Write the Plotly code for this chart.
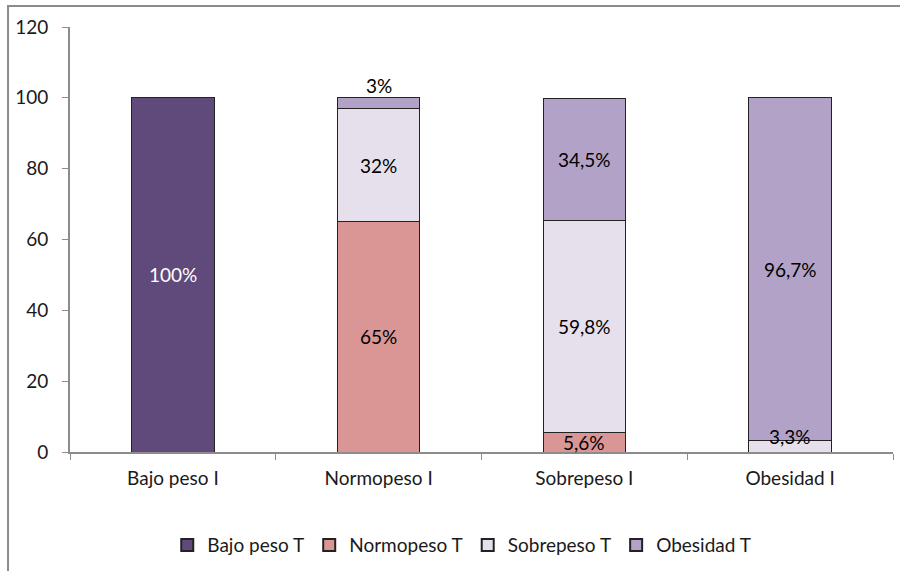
import plotly.graph_objects as go

categories = ["Bajo peso I", "Normopeso I", "Sobrepeso I", "Obesidad I"]
series_names = ["Bajo peso T", "Normopeso T", "Sobrepeso T", "Obesidad T"]
bajo_peso_t = [100, 0, 0, 0]
normopeso_t = [0, 65, 5.6, 0]
sobrepeso_t = [0, 32, 59.8, 3.3]
obesidad_t = [0, 3, 34.5, 96.7]
colors = ["#604A7B", "#D99694", "#E6E0EC", "#B3A2C7"]
y_ticks = [0, 20, 40, 60, 80, 100, 120]

# (category index, series index, label text, text colour, vertical offset in value units)
labels = [
    (0, 0, "100%", "white", 0),
    (1, 1, "65%", "black", 0),
    (1, 2, "32%", "black", 0),
    (1, 3, "3%", "black", 5),
    (2, 1, "5,6%", "black", 0),
    (2, 2, "59,8%", "black", 0),
    (2, 3, "34,5%", "black", 0),
    (3, 2, "3,3%", "black", 2.6),
    (3, 3, "96,7%", "black", 0),
]

font_family = "Lato, 'Open Sans', sans-serif"
series_values = [bajo_peso_t, normopeso_t, sobrepeso_t, obesidad_t]

fig = go.Figure()
for name, vals, col in zip(series_names, series_values, colors):
    fig.add_trace(go.Bar(
        x=categories, y=vals, name=name,
        marker=dict(color=col, line=dict(color="#222222", width=1)),
        width=0.4, hoverinfo="skip",
    ))

# Segment-centred value labels
for ci, si, txt, tcol, dy in labels:
    base = sum(series_values[k][ci] for k in range(si))
    mid = base + series_values[si][ci] / 2 + dy
    fig.add_annotation(
        x=categories[ci], y=mid, text=txt, showarrow=False,
        font=dict(family=font_family, size=19, color=tcol),
        xref="x", yref="y",
    )

# Outer chart frame (top and left edges visible)
fig.add_shape(type="rect", xref="paper", yref="paper",
              x0=-0.0753, x1=1.2, y0=-0.6, y1=1.0494,
              line=dict(color="#8C8C8C", width=2), layer="below")

fig.update_layout(
    barmode="stack",
    width=900, height=571,
    margin=dict(l=70, r=7, t=27, b=119, autoexpand=False),
    plot_bgcolor="white", paper_bgcolor="white",
    font=dict(family=font_family, size=19, color="#1a1a1a"),
    showlegend=True,
    legend=dict(orientation="h", x=0.476, xanchor="center", y=-0.219, yanchor="middle",
                traceorder="normal",
                font=dict(family=font_family, size=19, color="#1a1a1a"),
                itemsizing="constant"),
    xaxis=dict(showline=True, linecolor="#8C8C8C", linewidth=2,
               ticks="outside", tickson="boundaries", ticklen=6, tickcolor="#8C8C8C",
               showgrid=False, fixedrange=True, ticklabelstandoff=8),
    yaxis=dict(range=[0, 120], tickvals=y_ticks, showline=True, linecolor="#8C8C8C",
               linewidth=2, ticks="outside", ticklen=6, tickcolor="#8C8C8C",
               showgrid=False, zeroline=False, ticklabelstandoff=10),
)

fig.write_html("out.html")
